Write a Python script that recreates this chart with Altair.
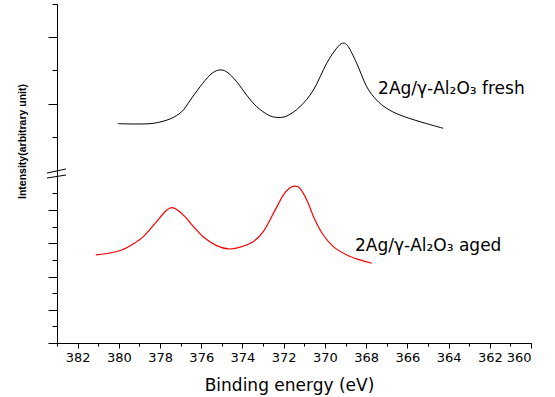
import altair as alt
import pandas as pd

# Binding energy (eV) and intensity (arbitrary units, broken axis)
fresh_be = [380.05, 379.2, 378.33, 377.52, 376.95, 376.55, 376.06, 375.58, 375.17, 374.77,
            374.28, 373.80, 373.31, 372.75, 372.34, 371.85, 371.21, 370.56, 369.91, 369.43,
            369.14, 368.87, 368.46, 367.97, 367.49, 367.00, 366.36, 365.39, 364.26]
fresh_int = [6.60, 6.59, 6.61, 6.74, 6.96, 7.29, 7.71, 8.06, 8.21, 8.16,
             7.86, 7.46, 7.11, 6.86, 6.79, 6.83, 7.11, 7.61, 8.42, 8.87,
             9.02, 8.92, 8.42, 7.71, 7.31, 7.06, 6.86, 6.66, 6.46]

aged_be = [381.12, 380.51, 379.86, 379.38, 378.81, 378.24, 377.76, 377.47, 377.19, 376.79,
           376.30, 375.82, 375.25, 374.69, 374.20, 373.48, 372.99, 372.50, 372.02, 371.69,
           371.45, 371.21, 370.88, 370.48, 370.08, 369.59, 368.94, 368.30, 367.73]
aged_int = [2.65, 2.70, 2.80, 2.95, 3.20, 3.60, 3.95, 4.07, 4.02, 3.80,
            3.45, 3.15, 2.93, 2.83, 2.87, 3.05, 3.35, 3.90, 4.45, 4.67,
            4.72, 4.65, 4.30, 3.70, 3.25, 2.90, 2.65, 2.50, 2.40]

x_major = [382, 380, 378, 376, 374, 372, 370, 368, 366, 364, 362, 360]
x_minor = [383, 381, 379, 377, 375, 373, 371, 369, 367, 365, 363, 361]
y_major = [0, 1, 2, 3, 4, 7.2, 9.2]
y_minor = [0.5, 1.5, 2.5, 3.5, 4.5, 6.2, 8.2, 10.2]

labels = ["2Ag/\u03b3-Al\u2082O\u2083 fresh", "2Ag/\u03b3-Al\u2082O\u2083 aged"]
label_x = [367.42, 368.54]
label_y = [7.64, 2.92]

fresh = pd.DataFrame({"be": fresh_be, "i": fresh_int})
aged = pd.DataFrame({"be": aged_be, "i": aged_int})
lab = pd.DataFrame({"t": labels, "be": label_x, "i": label_y})

xs = alt.Scale(domain=[383, 360], nice=False, zero=False)
ys = alt.Scale(domain=[0, 10.2], nice=False, zero=False)

common_axis = dict(grid=False, domainColor="black", tickColor="black", domainWidth=1,
                   tickWidth=1, labelColor="black")

x_major_axis = alt.Axis(values=x_major, tickSize=5, labelFont="DejaVu Sans", labelFontSize=13,
                        labelPadding=3, format="d", title="Binding energy (eV)", orient="bottom",
                        titleFont="DejaVu Sans", titleFontSize=17, titleFontWeight="normal",
                        titleColor="black", titleBaseline="alphabetic", titleY=47, titleX=232,
                        **common_axis)
x_minor_axis = alt.Axis(values=x_minor, tickSize=3, labels=False, title=None, orient="bottom",
                        **common_axis)
y_major_axis = alt.Axis(values=y_major, tickSize=9, labels=False, orient="left",
                        title="Intensity(arbitrary unit)", titleFont="Liberation Sans",
                        titleFontSize=10.5, titleFontWeight="bold", titleColor="black",
                        titleAngle=270, titleX=-30, titleY=137, titleBaseline="bottom",
                        **common_axis)
y_minor_axis = alt.Axis(values=y_minor, tickSize=5, labels=False, title=None, orient="left",
                        **common_axis)

l1 = alt.Chart(fresh).mark_line(color="black", strokeWidth=1, interpolate="cardinal").encode(
    x=alt.X("be:Q", scale=xs, axis=x_major_axis),
    y=alt.Y("i:Q", scale=ys, axis=y_major_axis),
)
l2 = alt.Chart(aged).mark_line(color="red", strokeWidth=1.2, interpolate="cardinal").encode(
    x=alt.X("be:Q", scale=xs, axis=x_minor_axis),
    y=alt.Y("i:Q", scale=ys, axis=y_minor_axis),
)
txt = alt.Chart(lab).mark_text(align="left", baseline="middle", font="DejaVu Sans",
                               fontSize=17, color="black").encode(
    x=alt.X("be:Q", scale=xs, axis=None),
    y=alt.Y("i:Q", scale=ys, axis=None),
    text="t:N",
)
brk = pd.DataFrame({"k": [0, 1]})
b1 = alt.Chart(brk).transform_filter("datum.k == 0").mark_rule(color="black", strokeWidth=1).encode(
    x=alt.value(-10), x2=alt.value(9), y=alt.value(169), y2=alt.value(165))
b2 = alt.Chart(brk).transform_filter("datum.k == 1").mark_rule(color="black", strokeWidth=1).encode(
    x=alt.value(-10), x2=alt.value(9), y=alt.value(174), y2=alt.value(171))

chart = alt.layer(l1, l2, txt, b1, b2).resolve_axis(
    x="independent", y="independent"
).properties(
    width=474, height=339,
    autosize=alt.AutoSizeParams(type="none"),
    padding={"left": 57, "top": 4, "right": 24, "bottom": 54},
).configure_view(stroke=None)

chart.save("out.html", embed_options={"renderer": "svg", "actions": False})
